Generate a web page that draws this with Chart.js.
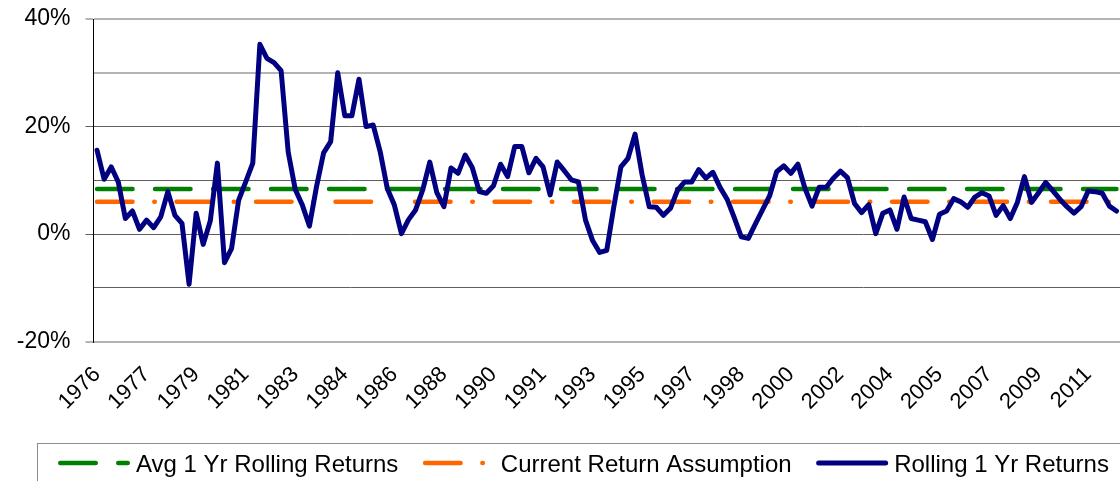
<!DOCTYPE html>
<html>
<head>
<meta charset="utf-8">
<script src="https://cdn.jsdelivr.net/npm/chart.js@4.4.1/dist/chart.umd.min.js"></script>
<style>
  html, body { margin: 0; padding: 0; background: #fff; }
  #wrap { width: 1120px; height: 481px; }
</style>
</head>
<body>
<div id="wrap"><canvas id="chart" width="1120" height="481"></canvas></div>
<script>
// quarterly data, 1976 Q1 .. 2012 Q1
const startYear = 1976;
const quarterCount = 145;

// one label every 7 quarters
const tickLabels = ['1976', '1977', '1979', '1981', '1983', '1984', '1986', '1988', '1990', '1991',
  '1993', '1995', '1997', '1998', '2000', '2002', '2004', '2005', '2007', '2009', '2011'];

// rolling 1 yr returns (%)
const rollingReturns = [
  15.6, 10.2, 12.5, 9.7, 2.9, 4.3, 0.9, 2.6, 1.2, 3.2,
  7.9, 3.5, 2.0, -9.3, 3.9, -1.9, 2.5, 13.2, -5.3, -2.7,
  6.3, 9.7, 13.2, 35.3, 32.7, 31.9, 30.4, 15.3, 8.3, 5.4,
  1.5, 8.8, 15.1, 17.2, 30.0, 22.0, 22.0, 28.8, 20.0, 20.3,
  15.3, 8.5, 5.4, 0.1, 2.7, 4.5, 8.2, 13.4, 7.7, 5.1,
  12.3, 11.3, 14.7, 12.4, 7.9, 7.6, 9.0, 13.0, 10.7, 16.3,
  16.3, 11.4, 14.1, 12.5, 7.3, 13.4, 11.8, 10.1, 9.7, 2.6,
  -1.2, -3.4, -3.0, 5.1, 12.5, 14.1, 18.6, 11.0, 5.1, 5.0,
  3.5, 4.8, 8.2, 9.7, 9.7, 12.0, 10.4, 11.5, 8.7, 6.5,
  3.1, -0.5, -0.8, 1.9, 4.5, 7.1, 11.6, 12.7, 11.3, 13.0,
  8.5, 5.2, 8.7, 8.7, 10.4, 11.7, 10.5, 5.7, 4.0, 5.5,
  0.1, 3.9, 4.5, 0.9, 6.9, 2.9, 2.6, 2.3, -1.0, 3.7,
  4.3, 6.6, 6.0, 5.0, 6.9, 7.7, 7.1, 3.5, 5.3, 2.9,
  5.9, 10.7, 5.9, 7.7, 9.6, 8.1, 6.5, 5.1, 3.9, 5.1,
  8.0, 7.9, 7.6, 5.2, 4.3
];

const avgRollingReturn = 8.4;
const currentAssumption = 6.0;

const quarters = [];
for (let i = 0; i < quarterCount; i++) {
  quarters.push((startYear + Math.floor(i / 4)) + ' Q' + (i % 4 + 1));
}
const firstQ = quarters[0];
const lastQ = quarters[quarters.length - 1];

const FONT = '"Liberation Sans", Arial, sans-serif';

// legend drawn like the excel box at the bottom
const legendBox = {
  id: 'legendBox',
  afterDraw(chart) {
    const ctx = chart.ctx;
    ctx.save();
    ctx.strokeStyle = '#8c8c8c';
    ctx.lineWidth = 1;
    ctx.strokeRect(37.5, 443.5, 1120, 80);
    ctx.font = '24px ' + FONT;
    ctx.textBaseline = 'alphabetic';
    let x = 58;
    const y = 463;
    chart.data.datasets.forEach(ds => {
      const half = ds.borderWidth / 2;
      ctx.beginPath();
      ctx.setLineDash(ds.borderDash || []);
      ctx.lineCap = ds.borderCapStyle || 'butt';
      ctx.lineWidth = ds.borderWidth;
      ctx.strokeStyle = ds.borderColor;
      ctx.moveTo(x + half, y);
      ctx.lineTo(x + 72 - half, y);
      ctx.stroke();
      ctx.setLineDash([]);
      ctx.fillStyle = '#000';
      ctx.fillText(ds.label, x + 78, 472);
      x += 78 + ctx.measureText(ds.label).width + 24.5;
    });
    ctx.restore();
  }
};

const lightLine = v => v === 40 || v === 30 || v === -20;

new Chart(document.getElementById('chart'), {
  type: 'line',
  data: {
    labels: quarters,
    datasets: [
      {
        label: 'Avg 1 Yr Rolling Returns',
        data: [{ x: firstQ, y: avgRollingReturn }, { x: lastQ, y: avgRollingReturn }],
        borderColor: '#008000',
        borderWidth: 4.5,
        borderDash: [35.5, 22.5],
        borderCapStyle: 'round',
        pointRadius: 0,
        order: 2
      },
      {
        label: 'Current Return Assumption',
        data: [{ x: firstQ, y: currentAssumption }, { x: lastQ, y: currentAssumption }],
        borderColor: '#ff6600',
        borderWidth: 4.5,
        borderDash: [35.5, 21.75, 0.5, 21.75],
        borderCapStyle: 'round',
        pointRadius: 0,
        order: 1
      },
      {
        label: 'Rolling 1 Yr Returns',
        data: rollingReturns,
        borderColor: '#000080',
        borderWidth: 5,
        borderCapStyle: 'round',
        borderJoinStyle: 'round',
        tension: 0,
        pointRadius: 0,
        order: 0
      }
    ]
  },
  options: {
    responsive: false,
    animation: false,
    layout: { padding: { top: 19, right: 0, bottom: 0, left: 0 } },
    plugins: {
      legend: { display: false },
      tooltip: { enabled: false }
    },
    scales: {
      x: {
        offset: true,
        afterFit: s => {
          s.height = 139.3;
          s.paddingLeft = 0;
          s.paddingRight = 0;
        },
        grid: { display: false, drawTicks: false },
        border: { display: false },
        ticks: {
          autoSkip: false,
          minRotation: 45,
          maxRotation: 45,
          padding: 20,
          color: '#000',
          font: { family: FONT, size: 22 },
          callback: (v, i) => (i % 7 === 0 ? tickLabels[i / 7] : '')
        }
      },
      y: {
        min: -20,
        max: 40,
        afterFit: s => {
          s.width = 93.5;
          s.paddingTop = 0;
          s.paddingBottom = 0;
        },
        grid: {
          color: c => (lightLine(c.tick.value) ? '#b4b4b4' : '#5f5f5f'),
          lineWidth: c => (lightLine(c.tick.value) ? 2 : 1),
          tickLength: 8,
          tickColor: c => (c.tick.value % 20 === 0 ? (lightLine(c.tick.value) ? '#b4b4b4' : '#5f5f5f') : 'rgba(0,0,0,0)'),
          tickWidth: c => (lightLine(c.tick.value) ? 2 : 1)
        },
        border: { display: true, color: '#000', width: 1 },
        ticks: {
          stepSize: 10,
          padding: 15,
          color: '#000',
          font: { family: FONT, size: 23 },
          callback: v => (v % 20 === 0 ? v + '%' : '')
        }
      }
    }
  },
  plugins: [legendBox]
});
</script>
</body>
</html>
